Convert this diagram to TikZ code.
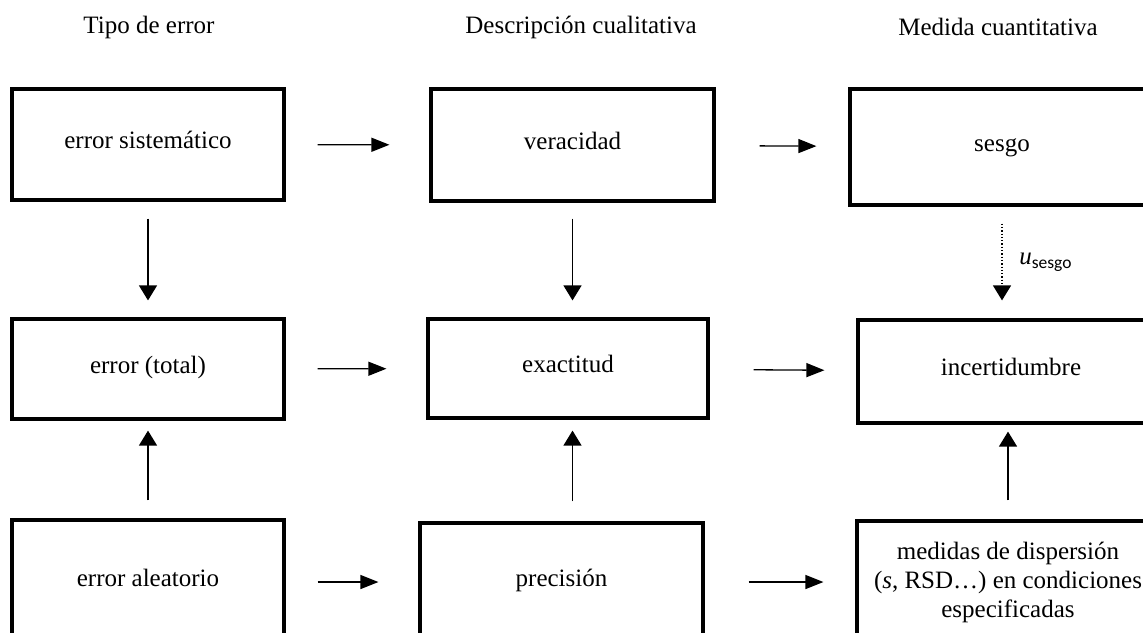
\documentclass[tikz,border=0pt]{standalone}
\usepackage{fontspec}
\setmainfont{Liberation Serif}
\newfontfamily\subfont{Carlito}
\usetikzlibrary{arrows.meta}

\tikzset{
  box/.style={draw, line width=1.6pt, inner sep=0pt, align=center,
    text height=8pt, text depth=4pt},
  head/.style={inner sep=0pt},
  flow/.style={-{Triangle[length=9pt,width=7pt]}, line width=0.65pt},
  rise/.style={flow, -{Triangle[length=7.5pt,width=9pt]}},
  gapA/.style={shorten <=16pt, shorten >=20pt},
  gapB/.style={shorten <=22pt, shorten >=16pt},
}

\begin{document}
\begin{tikzpicture}[x=0.5pt, y=-0.5pt, font=\fontsize{12.5}{14.5}\selectfont]
  \useasboundingbox (0,0) rectangle (1143,632);
  \clip (0,0) rectangle (1143,632);

  % column headings
  \node[head] (tipo) at (149,27) {Tipo de error};
  \node[head] (cuali) at (581,27) {Descripción cualitativa};
  \node[head] (cuanti) at (998,27) {Medida cuantitativa};

  % first row
  \node[box, minimum width=136pt, minimum height=55.5pt] (sist) at (148,144.5) {error sistemático};
  \node[box, minimum width=141.5pt, minimum height=56pt] (verac) at (572.5,145) {veracidad};
  \node[box, minimum width=152pt, minimum height=58pt] (sesgo) at (1002,147) {sesgo};

  % second row
  \node[box, minimum width=136pt, minimum height=50pt] (total) at (148,369) {error (total)};
  \node[box, minimum width=140pt, minimum height=49.5pt] (exact) at (568,368.5) {exactitud};
  \node[box, minimum width=153pt, minimum height=51.5pt] (incert) at (1011,371.5) {incertidumbre};

  % third row (cut off by the lower edge)
  \node[box, minimum width=136pt, minimum height=62pt] (aleat) at (148,582) {error aleatorio};
  \node[box, minimum width=141.5pt, minimum height=59pt] (prec) at (561.5,582) {precisión};
  \node[box, text height=, text depth=, minimum width=151pt, minimum height=61pt] (medid) at (1008,582)
    {medidas de dispersión\\(\textit{s}, RSD…) en condiciones\\especificadas};

  % left to right
  \draw[flow, gapA] (sist) -- (verac);
  \draw[flow, gapB] (verac) -- (sesgo);
  \draw[flow, gapA] (total) -- (exact);
  \draw[flow, gapB] (exact) -- (incert);
  \draw[flow, gapA] (aleat) -- (prec);
  \draw[flow, gapB] (prec) -- (medid);

  % downwards
  \draw[rise, shorten <=8.5pt, shorten >=8.5pt] (sist) -- (total);
  \draw[rise, shorten <=8pt, shorten >=8.5pt] (verac.south) -- (verac.south |- exact.north);
  \draw[rise, densely dotted, shorten <=8.5pt, shorten >=9pt] (sesgo.south) -- (sesgo.south |- incert.north)
    node[midway, right=5pt] {\textit{u}\textsubscript{\subfont sesgo}};

  % upwards
  \draw[rise, shorten <=9pt, shorten >=5pt] (aleat) -- (total);
  \draw[rise, shorten <=10pt, shorten >=5.5pt] (prec.north -| verac.south) -- (exact.south -| verac.south);
  \draw[rise, shorten <=9.5pt, shorten >=3.5pt] (medid.north) -- (medid.north |- incert.south);
\end{tikzpicture}
\end{document}
